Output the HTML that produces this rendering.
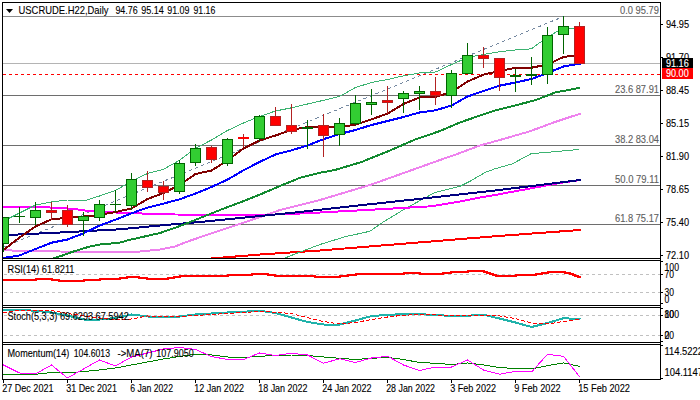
<!DOCTYPE html>
<html><head><meta charset="utf-8"><title>USCRUDE.H22 Daily</title>
<style>html,body{margin:0;padding:0;background:#fff;overflow:hidden}svg{display:block}text{font-family:"Liberation Sans",sans-serif}</style></head>
<body>
<svg width="700" height="400" viewBox="0 0 700 400" shape-rendering="crispEdges" font-family="Liberation Sans, sans-serif">
<rect x="0" y="0" width="700" height="400" fill="#fff"/>
<defs><clipPath id="cm"><rect x="3" y="3" width="657" height="255"/></clipPath><clipPath id="cr"><rect x="3" y="261" width="657" height="44"/></clipPath><clipPath id="cs"><rect x="3" y="308" width="657" height="34"/></clipPath><clipPath id="cq"><rect x="3" y="345" width="657" height="34"/></clipPath></defs>
<g clip-path="url(#cm)">
<line x1="3" y1="16.5" x2="660" y2="16.5" stroke="#8c8c8c" stroke-width="1"/>
<line x1="3" y1="63.5" x2="660" y2="63.5" stroke="#b4b4b4" stroke-width="1"/>
<line x1="3" y1="95.5" x2="660" y2="95.5" stroke="#6e6e6e" stroke-width="1"/>
<line x1="3" y1="145.5" x2="660" y2="145.5" stroke="#6e6e6e" stroke-width="1"/>
<line x1="3" y1="185.5" x2="660" y2="185.5" stroke="#6e6e6e" stroke-width="1"/>
<line x1="3" y1="224.5" x2="660" y2="224.5" stroke="#6e6e6e" stroke-width="1"/>
<line x1="3" y1="74.5" x2="660" y2="74.5" stroke="#ff0000" stroke-width="1" stroke-dasharray="3 3"/>
<line x1="3" y1="247.4" x2="563.5" y2="16.5" stroke="#7488a0" stroke-width="1" stroke-dasharray="3.25 3.25"/>
<polyline points="3,250 20,251 60,251.5 120,252.5 140,251.5 160,249.5 175,246.5 185,242.5 210,233.75 235,225.5 260,217 280,210 300,205 320,200 345,192.5 370,185 405,172.5 440,160 460,153 480,145.5 505,138.5 530,131.25 555,122 580,113.75" fill="none" stroke="#ee82ee" stroke-width="2" stroke-linejoin="round" stroke-linecap="square"/>
<polyline points="211,258.5 260,254.5 320,250.5 400,244 495,236.25 580,230" fill="none" stroke="#ff0000" stroke-width="2" stroke-linejoin="round" stroke-linecap="square"/>
<polyline points="285,258 300,252 320,244.5 345,236.75 370,231.25 382.5,222.5 405,208.75 435,192.5 460,186.25 470,181.25 485,172.5 495,168.75 512.5,163.75 531,153.75 579,149.5" fill="none" stroke="#3cb371" stroke-width="1" stroke-linejoin="round" stroke-linecap="square"/>
<polyline points="3,207 20,207 50,207.5 75,209 88,211 125,213 175,214.5 260,215 290,214 320,212.5 380,209.25 432,206.25 460,201.5 480,197.5 495,195 530,188.5 555,183.75 580,180" fill="none" stroke="#ff00ff" stroke-width="2" stroke-linejoin="round" stroke-linecap="square"/>
<polyline points="8,235 60,232.5 120,229.3 160,225.5 200,222 250,217 300,212 335,208 400,201 450,195.5 495,190.5 540,185 580,180" fill="none" stroke="#000080" stroke-width="2" stroke-linejoin="round" stroke-linecap="square"/>
<polyline points="48,260 55,257.8 64,255 72,252 88,247 99,244.6 105,243.8 115,243.3 120,242.6 128,240.3 140,237.5 160,233 180,226 200,218 220,210 240,202.5 260,194.5 280,186 300,177.8 320,172.7 335,170 361,162.2 388,151.3 415,139.6 440,131 460,122.5 480,115.5 495,110.5 515,105.5 536,100 555,92.5 579,88" fill="none" stroke="#128a30" stroke-width="2" stroke-linejoin="round" stroke-linecap="square"/>
<polyline points="3.5,258 19.5,255.4 35.5,249 51.5,242.7 67.5,239.5 83.5,233.3 99.5,225.6 115.5,219.7 131.5,213.3 147.5,207.6 163.5,203.6 179.5,199.3 195.5,193.5 211.5,187 227.5,179.6 243.5,170.3 259.5,162 275.5,154.5 291.5,150.3 307.5,145.5 323.5,139.2 339.5,134 355.5,130 371.5,125 387.5,121 403.5,117 419.5,112.5 435.5,110.3 451.5,105.5 467.5,96.5 483.5,91 499.5,85.7 515.5,82.5 531.5,79 547.5,73 563.5,66.5 579.5,63.75" fill="none" stroke="#0000ff" stroke-width="2" stroke-linejoin="round" stroke-linecap="square"/>
<polyline points="3.5,221 19.5,213 35.5,205 51.5,202 67.5,200 83.5,201 99.5,196 115.5,190.5 131.5,181 147.5,173.5 163.5,169.3 179.5,160.3 195.5,148.2 211.5,140 227.5,130.5 243.5,123 259.5,116.5 275.5,111 291.5,107.8 307.5,104 323.5,100.3 339.5,96.5 355.5,87.5 371.5,82.5 387.5,79.5 403.5,75.8 419.5,73 435.5,72 451.5,64.5 467.5,57.5 483.5,54.5 499.5,51.7 515.5,50 531.5,48.8 547.5,37 563.5,28 579.5,28" fill="none" stroke="#3cb371" stroke-width="1" stroke-linejoin="round" stroke-linecap="square"/>
<polyline points="3.5,250 19.5,237.5 35.5,226.5 51.5,219.3 67.5,217.8 83.5,216.6 99.5,215 115.5,212 131.5,208.5 147.5,199 163.5,193 179.5,185 195.5,174 211.5,170.5 227.5,160.5 243.5,148.5 259.5,140.5 275.5,135.5 291.5,130 307.5,127 323.5,127 339.5,127 355.5,124.8 371.5,119.3 387.5,113.7 403.5,104 419.5,97.5 435.5,97 451.5,92 467.5,81.5 483.5,74.6 499.5,71 515.5,67.8 531.5,67.7 547.5,64.5 563.5,57 579.5,55" fill="none" stroke="#800000" stroke-width="2" stroke-linejoin="round" stroke-linecap="square"/>
<line x1="3.5" y1="217" x2="3.5" y2="252" stroke="#006400" stroke-width="1"/>
<rect x="-1.5" y="217.5" width="10" height="26" fill="#32cd32" stroke="#006400" stroke-width="1"/>
<line x1="19.5" y1="207" x2="19.5" y2="223" stroke="#006400" stroke-width="1"/>
<rect x="14" y="216" width="11" height="1" fill="#006400"/>
<line x1="35.5" y1="202" x2="35.5" y2="225" stroke="#006400" stroke-width="1"/>
<rect x="30.5" y="210.5" width="10" height="7" fill="#32cd32" stroke="#006400" stroke-width="1"/>
<line x1="51.5" y1="202" x2="51.5" y2="220" stroke="#b22222" stroke-width="1"/>
<rect x="46.5" y="210.5" width="10" height="2" fill="#ff0000" stroke="#b22222" stroke-width="1"/>
<line x1="67.5" y1="205" x2="67.5" y2="227" stroke="#b22222" stroke-width="1"/>
<rect x="62.5" y="210.5" width="10" height="14" fill="#ff0000" stroke="#b22222" stroke-width="1"/>
<line x1="83.5" y1="212" x2="83.5" y2="236" stroke="#006400" stroke-width="1"/>
<rect x="78.5" y="216.5" width="10" height="4" fill="#32cd32" stroke="#006400" stroke-width="1"/>
<line x1="99.5" y1="200" x2="99.5" y2="221" stroke="#006400" stroke-width="1"/>
<rect x="94.5" y="204.5" width="10" height="13" fill="#32cd32" stroke="#006400" stroke-width="1"/>
<line x1="115.5" y1="190" x2="115.5" y2="212" stroke="#006400" stroke-width="1"/>
<rect x="110" y="204" width="11" height="1" fill="#006400"/>
<line x1="131.5" y1="173" x2="131.5" y2="210" stroke="#006400" stroke-width="1"/>
<rect x="126.5" y="179.5" width="10" height="26" fill="#32cd32" stroke="#006400" stroke-width="1"/>
<line x1="147.5" y1="171" x2="147.5" y2="192" stroke="#b22222" stroke-width="1"/>
<rect x="142.5" y="180.5" width="10" height="7" fill="#ff0000" stroke="#b22222" stroke-width="1"/>
<line x1="163.5" y1="181" x2="163.5" y2="200" stroke="#b22222" stroke-width="1"/>
<rect x="158.5" y="186.5" width="10" height="6" fill="#ff0000" stroke="#b22222" stroke-width="1"/>
<line x1="179.5" y1="160" x2="179.5" y2="194" stroke="#006400" stroke-width="1"/>
<rect x="174.5" y="163.5" width="10" height="28" fill="#32cd32" stroke="#006400" stroke-width="1"/>
<line x1="195.5" y1="144" x2="195.5" y2="166" stroke="#006400" stroke-width="1"/>
<rect x="190.5" y="148.5" width="10" height="14" fill="#32cd32" stroke="#006400" stroke-width="1"/>
<line x1="211.5" y1="146" x2="211.5" y2="163" stroke="#b22222" stroke-width="1"/>
<rect x="206.5" y="147.5" width="10" height="12" fill="#ff0000" stroke="#b22222" stroke-width="1"/>
<line x1="227.5" y1="138" x2="227.5" y2="166" stroke="#006400" stroke-width="1"/>
<rect x="222.5" y="139.5" width="10" height="24" fill="#32cd32" stroke="#006400" stroke-width="1"/>
<line x1="243.5" y1="134" x2="243.5" y2="147" stroke="#b22222" stroke-width="1"/>
<rect x="238" y="137" width="11" height="2" fill="#ff0000"/>
<line x1="259.5" y1="115" x2="259.5" y2="141" stroke="#006400" stroke-width="1"/>
<rect x="254.5" y="116.5" width="10" height="22" fill="#32cd32" stroke="#006400" stroke-width="1"/>
<line x1="275.5" y1="107" x2="275.5" y2="126" stroke="#b22222" stroke-width="1"/>
<rect x="270.5" y="116.5" width="10" height="9" fill="#ff0000" stroke="#b22222" stroke-width="1"/>
<line x1="291.5" y1="104" x2="291.5" y2="134" stroke="#b22222" stroke-width="1"/>
<rect x="286.5" y="125.5" width="10" height="6" fill="#ff0000" stroke="#b22222" stroke-width="1"/>
<line x1="307.5" y1="120" x2="307.5" y2="149" stroke="#006400" stroke-width="1"/>
<rect x="302" y="127" width="11" height="2" fill="#006400"/>
<line x1="323.5" y1="114" x2="323.5" y2="157" stroke="#b22222" stroke-width="1"/>
<rect x="318.5" y="125.5" width="10" height="10" fill="#ff0000" stroke="#b22222" stroke-width="1"/>
<line x1="339.5" y1="118" x2="339.5" y2="146" stroke="#006400" stroke-width="1"/>
<rect x="334.5" y="123.5" width="10" height="11" fill="#32cd32" stroke="#006400" stroke-width="1"/>
<line x1="355.5" y1="95" x2="355.5" y2="125" stroke="#006400" stroke-width="1"/>
<rect x="350.5" y="103.5" width="10" height="20" fill="#32cd32" stroke="#006400" stroke-width="1"/>
<line x1="371.5" y1="89" x2="371.5" y2="115" stroke="#006400" stroke-width="1"/>
<rect x="366.5" y="102.5" width="10" height="2" fill="#32cd32" stroke="#006400" stroke-width="1"/>
<line x1="387.5" y1="86" x2="387.5" y2="114" stroke="#b22222" stroke-width="1"/>
<rect x="382.5" y="100.5" width="10" height="2" fill="#ff0000" stroke="#b22222" stroke-width="1"/>
<line x1="403.5" y1="91" x2="403.5" y2="113" stroke="#006400" stroke-width="1"/>
<rect x="398.5" y="93.5" width="10" height="5" fill="#32cd32" stroke="#006400" stroke-width="1"/>
<line x1="419.5" y1="86" x2="419.5" y2="110" stroke="#006400" stroke-width="1"/>
<rect x="414.5" y="91.5" width="10" height="2" fill="#32cd32" stroke="#006400" stroke-width="1"/>
<line x1="435.5" y1="77" x2="435.5" y2="105" stroke="#b22222" stroke-width="1"/>
<rect x="430.5" y="91.5" width="10" height="4" fill="#ff0000" stroke="#b22222" stroke-width="1"/>
<line x1="451.5" y1="70" x2="451.5" y2="108" stroke="#006400" stroke-width="1"/>
<rect x="446.5" y="73.5" width="10" height="22" fill="#32cd32" stroke="#006400" stroke-width="1"/>
<line x1="467.5" y1="43" x2="467.5" y2="74" stroke="#006400" stroke-width="1"/>
<rect x="462.5" y="55.5" width="10" height="18" fill="#32cd32" stroke="#006400" stroke-width="1"/>
<line x1="483.5" y1="47" x2="483.5" y2="68" stroke="#b22222" stroke-width="1"/>
<rect x="478.5" y="55.5" width="10" height="3" fill="#ff0000" stroke="#b22222" stroke-width="1"/>
<line x1="499.5" y1="58" x2="499.5" y2="91" stroke="#b22222" stroke-width="1"/>
<rect x="494.5" y="58.5" width="10" height="19" fill="#ff0000" stroke="#b22222" stroke-width="1"/>
<line x1="515.5" y1="69" x2="515.5" y2="92" stroke="#006400" stroke-width="1"/>
<rect x="510" y="75" width="11" height="2" fill="#006400"/>
<line x1="531.5" y1="57" x2="531.5" y2="85" stroke="#006400" stroke-width="1"/>
<rect x="526" y="74" width="11" height="2" fill="#006400"/>
<line x1="547.5" y1="27" x2="547.5" y2="84" stroke="#006400" stroke-width="1"/>
<rect x="542.5" y="35.5" width="10" height="39" fill="#32cd32" stroke="#006400" stroke-width="1"/>
<line x1="563.5" y1="16" x2="563.5" y2="54" stroke="#006400" stroke-width="1"/>
<rect x="558.5" y="26.5" width="10" height="8" fill="#32cd32" stroke="#006400" stroke-width="1"/>
<line x1="579.5" y1="22" x2="579.5" y2="64" stroke="#b22222" stroke-width="1"/>
<rect x="574.5" y="26.5" width="10" height="37" fill="#ff0000" stroke="#b22222" stroke-width="1"/>
</g>
<text x="659" y="14" fill="#606060" stroke="#606060" stroke-width="0.12" font-size="10.4" text-anchor="end" textLength="39" lengthAdjust="spacingAndGlyphs" xml:space="preserve">0.0 95.79</text>
<text x="659" y="93" fill="#606060" stroke="#606060" stroke-width="0.12" font-size="10.4" text-anchor="end" textLength="44" lengthAdjust="spacingAndGlyphs" xml:space="preserve">23.6 87.91</text>
<text x="659" y="143" fill="#606060" stroke="#606060" stroke-width="0.12" font-size="10.4" text-anchor="end" textLength="44" lengthAdjust="spacingAndGlyphs" xml:space="preserve">38.2 83.04</text>
<text x="659" y="183" fill="#606060" stroke="#606060" stroke-width="0.12" font-size="10.4" text-anchor="end" textLength="44" lengthAdjust="spacingAndGlyphs" xml:space="preserve">50.0 79.11</text>
<text x="659" y="222" fill="#606060" stroke="#606060" stroke-width="0.12" font-size="10.4" text-anchor="end" textLength="44" lengthAdjust="spacingAndGlyphs" xml:space="preserve">61.8 75.17</text>
<g clip-path="url(#cr)">
<line x1="4" y1="274.5" x2="660" y2="274.5" stroke="#c0c0c0" stroke-width="1" stroke-dasharray="3 3"/>
<line x1="4" y1="292.5" x2="660" y2="292.5" stroke="#c0c0c0" stroke-width="1" stroke-dasharray="3 3"/>
<path d="M3,280H36V279H52V280H59V281H84V280H100V279H120V278H127V277H139V278H147V279H168V278H174V277H180V276H228V275H252V274H268V275H275V276H315V277H340V276H348V275H356V274H404V273H420V274H443V273H451V272H468V271H484V272H487V273H490V274H493V275H496V276H516V275H536V274H542V273H548V272H565V273H570V274H573V275H575V276H578V277H580V278H580" fill="none" stroke="#ff0000" stroke-width="2" stroke-linejoin="miter"/>
</g>
<g clip-path="url(#cs)">
<line x1="4" y1="315.5" x2="660" y2="315.5" stroke="#c0c0c0" stroke-width="1" stroke-dasharray="3 3"/>
<line x1="4" y1="335.5" x2="660" y2="335.5" stroke="#c0c0c0" stroke-width="1" stroke-dasharray="3 3"/>
<polyline points="3.5,309.8 19.5,309.8 35.5,310.8 51.5,312.5 67.5,315.5 83.5,319.5 99.5,319.5 115.5,318 131.5,314.5 147.5,316.5 163.5,316.5 179.5,316.5 195.5,314.5 211.5,313.5 227.5,312.5 243.5,311.75 259.5,310.75 275.5,313 291.5,317.5 307.5,322 323.5,324.5 339.5,324.5 355.5,320.5 371.5,316 387.5,315 403.5,314 419.5,314 435.5,315.25 451.5,315.75 467.5,315.75 483.5,314.75 499.5,318.5 515.5,322.5 531.5,327 547.5,323 563.5,318.25 579.5,319" fill="none" stroke="#20b2aa" stroke-width="2" stroke-linejoin="round" stroke-linecap="square"/>
<polyline points="3.5,312.5 19.5,310.3 35.5,310.3 51.5,310.5 67.5,313.5 83.5,315.8 99.5,318 115.5,319.5 131.5,319 147.5,316 163.5,316.5 179.5,316.5 195.5,315.5 211.5,314.5 227.5,313.5 243.5,312.5 259.5,311.5 275.5,312.25 291.5,313.5 307.5,317.75 323.5,321.5 339.5,324 355.5,322.5 371.5,319.5 387.5,317 403.5,315.25 419.5,314.5 435.5,315 451.5,315.5 467.5,315.75 483.5,315.5 499.5,316 515.5,318.5 531.5,323 547.5,324 563.5,321.5 579.5,319.5" fill="none" stroke="#ff0000" stroke-width="1" stroke-dasharray="3 3" stroke-linejoin="round" stroke-linecap="square"/>
</g>
<g clip-path="url(#cq)">
<polyline points="3.5,374.25 19.5,374.25 35.5,374.25 51.5,372.5 67.5,373 83.5,371.5 99.5,370 115.5,368 131.5,365 147.5,362 163.5,359 179.5,356.5 195.5,354.25 211.5,355 227.5,357 243.5,357.5 259.5,356.25 275.5,355.5 291.5,355 307.5,355.5 323.5,357 339.5,358.25 355.5,359.5 371.5,358.25 387.5,357.5 403.5,359.5 419.5,362.5 435.5,363.25 451.5,364.5 467.5,363 483.5,365 499.5,367.5 515.5,368.6 531.5,369 547.5,365.7 563.5,362.9 579.5,366.3" fill="none" stroke="#008000" stroke-width="1" stroke-linejoin="round" stroke-linecap="square"/>
<polyline points="3.5,365 19.5,373 35.5,374 51.5,365 67.5,378 83.5,369 99.5,360 115.5,366 131.5,357 147.5,353 163.5,349 179.5,347.5 195.5,349.5 211.5,356.5 227.5,359.5 243.5,359.5 259.5,353 275.5,355.5 291.5,353.25 307.5,355 323.5,363.25 339.5,358.75 355.5,362.5 371.5,358 387.5,356.25 403.5,365 419.5,370.5 435.5,367 451.5,367 467.5,360 483.5,370 499.5,374.25 515.5,371.4 531.5,372 547.5,354.3 563.5,356.3 579.5,376.6" fill="none" stroke="#ff00ff" stroke-width="1" stroke-linejoin="round" stroke-linecap="square"/>
</g>
<line x1="2" y1="2.5" x2="661" y2="2.5" stroke="#000" stroke-width="1"/>
<line x1="2" y1="258.5" x2="661" y2="258.5" stroke="#000" stroke-width="1"/>
<line x1="2" y1="260.5" x2="661" y2="260.5" stroke="#000" stroke-width="1"/>
<line x1="2" y1="305.5" x2="661" y2="305.5" stroke="#000" stroke-width="1"/>
<line x1="2" y1="307.5" x2="661" y2="307.5" stroke="#000" stroke-width="1"/>
<line x1="2" y1="342.5" x2="661" y2="342.5" stroke="#000" stroke-width="1"/>
<line x1="2" y1="344.5" x2="661" y2="344.5" stroke="#000" stroke-width="1"/>
<line x1="2" y1="379.5" x2="661" y2="379.5" stroke="#000" stroke-width="1"/>
<line x1="2.5" y1="2" x2="2.5" y2="380" stroke="#000" stroke-width="1"/>
<line x1="660.5" y1="2" x2="660.5" y2="380" stroke="#000" stroke-width="1"/>
<path d="M6 9h7l-3.5 4z" fill="#000" shape-rendering="auto"/>
<text x="18.5" y="14" fill="#000" stroke="#000" stroke-width="0.12" font-size="10.4" text-anchor="start" textLength="90" lengthAdjust="spacingAndGlyphs" xml:space="preserve">USCRUDE.H22,Daily</text>
<text x="115.4" y="14" fill="#000" stroke="#000" stroke-width="0.12" font-size="10.4" text-anchor="start" textLength="22.3" lengthAdjust="spacingAndGlyphs" xml:space="preserve">94.76</text>
<text x="141.2" y="14" fill="#000" stroke="#000" stroke-width="0.12" font-size="10.4" text-anchor="start" textLength="22.6" lengthAdjust="spacingAndGlyphs" xml:space="preserve">95.14</text>
<text x="167.2" y="14" fill="#000" stroke="#000" stroke-width="0.12" font-size="10.4" text-anchor="start" textLength="22.3" lengthAdjust="spacingAndGlyphs" xml:space="preserve">91.09</text>
<text x="193.5" y="14" fill="#000" stroke="#000" stroke-width="0.12" font-size="10.4" text-anchor="start" textLength="21.8" lengthAdjust="spacingAndGlyphs" xml:space="preserve">91.16</text>
<text x="7.5" y="273" fill="#000" stroke="#000" stroke-width="0.12" font-size="10.4" text-anchor="start" textLength="67" lengthAdjust="spacingAndGlyphs" xml:space="preserve">RSI(14) 61.8211</text>
<text x="7.5" y="320" fill="#000" stroke="#000" stroke-width="0.12" font-size="10.4" text-anchor="start" textLength="121.25" lengthAdjust="spacingAndGlyphs" xml:space="preserve">Stoch(5,3,3) 69.6293 67.5942</text>
<text x="7.5" y="357" fill="#000" stroke="#000" stroke-width="0.12" font-size="10.4" text-anchor="start" textLength="61.75" lengthAdjust="spacingAndGlyphs" xml:space="preserve">Momentum(14)</text>
<text x="73.75" y="357" fill="#000" stroke="#000" stroke-width="0.12" font-size="10.4" text-anchor="start" textLength="36.25" lengthAdjust="spacingAndGlyphs" xml:space="preserve">104.6013</text>
<text x="117.5" y="357" fill="#000" stroke="#000" stroke-width="0.12" font-size="10.4" text-anchor="start" textLength="35" lengthAdjust="spacingAndGlyphs" xml:space="preserve">-&gt;MA(7)</text>
<text x="156.25" y="357" fill="#000" stroke="#000" stroke-width="0.12" font-size="10.4" text-anchor="start" textLength="37.5" lengthAdjust="spacingAndGlyphs" xml:space="preserve">107.9050</text>
<line x1="661" y1="24.5" x2="663" y2="24.5" stroke="#000" stroke-width="1"/>
<text x="666" y="28" fill="#000" stroke="#000" stroke-width="0.12" font-size="10.4" text-anchor="start" textLength="23" lengthAdjust="spacingAndGlyphs" xml:space="preserve">94.95</text>
<line x1="661" y1="57.5" x2="663" y2="57.5" stroke="#000" stroke-width="1"/>
<text x="666" y="61" fill="#000" stroke="#000" stroke-width="0.12" font-size="10.4" text-anchor="start" textLength="23" lengthAdjust="spacingAndGlyphs" xml:space="preserve">91.70</text>
<line x1="661" y1="90.5" x2="663" y2="90.5" stroke="#000" stroke-width="1"/>
<text x="666" y="94" fill="#000" stroke="#000" stroke-width="0.12" font-size="10.4" text-anchor="start" textLength="23" lengthAdjust="spacingAndGlyphs" xml:space="preserve">88.45</text>
<line x1="661" y1="123.5" x2="663" y2="123.5" stroke="#000" stroke-width="1"/>
<text x="666" y="127" fill="#000" stroke="#000" stroke-width="0.12" font-size="10.4" text-anchor="start" textLength="23" lengthAdjust="spacingAndGlyphs" xml:space="preserve">85.15</text>
<line x1="661" y1="156.5" x2="663" y2="156.5" stroke="#000" stroke-width="1"/>
<text x="666" y="160" fill="#000" stroke="#000" stroke-width="0.12" font-size="10.4" text-anchor="start" textLength="23" lengthAdjust="spacingAndGlyphs" xml:space="preserve">81.90</text>
<line x1="661" y1="189.5" x2="663" y2="189.5" stroke="#000" stroke-width="1"/>
<text x="666" y="193" fill="#000" stroke="#000" stroke-width="0.12" font-size="10.4" text-anchor="start" textLength="23" lengthAdjust="spacingAndGlyphs" xml:space="preserve">78.65</text>
<line x1="661" y1="222.5" x2="663" y2="222.5" stroke="#000" stroke-width="1"/>
<text x="666" y="226" fill="#000" stroke="#000" stroke-width="0.12" font-size="10.4" text-anchor="start" textLength="23" lengthAdjust="spacingAndGlyphs" xml:space="preserve">75.40</text>
<line x1="661" y1="255.5" x2="663" y2="255.5" stroke="#000" stroke-width="1"/>
<text x="666" y="259" fill="#000" stroke="#000" stroke-width="0.12" font-size="10.4" text-anchor="start" textLength="23" lengthAdjust="spacingAndGlyphs" xml:space="preserve">72.10</text>
<rect x="662" y="58" width="31" height="10" fill="#000"/>
<rect x="662" y="68" width="31" height="11" fill="#ff0000"/>
<text x="666" y="67" fill="#fff" stroke="#fff" stroke-width="0.12" font-size="10.4" text-anchor="start" textLength="22.7" lengthAdjust="spacingAndGlyphs" xml:space="preserve">91.16</text>
<text x="666" y="77" fill="#fff" stroke="#fff" stroke-width="0.12" font-size="10.4" text-anchor="start" textLength="22.7" lengthAdjust="spacingAndGlyphs" xml:space="preserve">90.00</text>
<text x="664.5" y="271" fill="#000" stroke="#000" stroke-width="0.12" font-size="10.4" text-anchor="start" textLength="14.5" lengthAdjust="spacingAndGlyphs" xml:space="preserve">100</text>
<text x="664.5" y="278" fill="#000" stroke="#000" stroke-width="0.12" font-size="10.4" text-anchor="start" textLength="9.5" lengthAdjust="spacingAndGlyphs" xml:space="preserve">70</text>
<text x="664.5" y="296" fill="#000" stroke="#000" stroke-width="0.12" font-size="10.4" text-anchor="start" textLength="9.5" lengthAdjust="spacingAndGlyphs" xml:space="preserve">30</text>
<text x="664.5" y="302.6" fill="#000" stroke="#000" stroke-width="0.12" font-size="10.4" text-anchor="start" textLength="4.8" lengthAdjust="spacingAndGlyphs" xml:space="preserve">0</text>
<line x1="661" y1="261.5" x2="663" y2="261.5" stroke="#000" stroke-width="1"/>
<line x1="661" y1="274.5" x2="663" y2="274.5" stroke="#000" stroke-width="1"/>
<line x1="661" y1="292.5" x2="663" y2="292.5" stroke="#000" stroke-width="1"/>
<line x1="661" y1="303.5" x2="663" y2="303.5" stroke="#000" stroke-width="1"/>
<line x1="661" y1="308.5" x2="663" y2="308.5" stroke="#000" stroke-width="1"/>
<line x1="661" y1="315.5" x2="663" y2="315.5" stroke="#000" stroke-width="1"/>
<line x1="661" y1="335.5" x2="663" y2="335.5" stroke="#000" stroke-width="1"/>
<line x1="661" y1="341.5" x2="663" y2="341.5" stroke="#000" stroke-width="1"/>
<line x1="661" y1="345.5" x2="663" y2="345.5" stroke="#000" stroke-width="1"/>
<line x1="661" y1="378.5" x2="663" y2="378.5" stroke="#000" stroke-width="1"/>
<text x="664.5" y="318" fill="#000" stroke="#000" stroke-width="0.12" font-size="10.4" text-anchor="start" textLength="14.5" lengthAdjust="spacingAndGlyphs" xml:space="preserve">100</text>
<text x="664.5" y="318" fill="#000" stroke="#000" stroke-width="0.12" font-size="10.4" text-anchor="start" textLength="9.5" lengthAdjust="spacingAndGlyphs" xml:space="preserve">80</text>
<text x="664.5" y="339" fill="#000" stroke="#000" stroke-width="0.12" font-size="10.4" text-anchor="start" textLength="9.5" lengthAdjust="spacingAndGlyphs" xml:space="preserve">20</text>
<text x="664.5" y="339" fill="#000" stroke="#000" stroke-width="0.12" font-size="10.4" text-anchor="start" textLength="4.8" lengthAdjust="spacingAndGlyphs" xml:space="preserve">0</text>
<text x="664.5" y="355" fill="#000" stroke="#000" stroke-width="0.12" font-size="10.4" text-anchor="start" textLength="38.5" lengthAdjust="spacingAndGlyphs" xml:space="preserve">114.5222</text>
<text x="664.5" y="376" fill="#000" stroke="#000" stroke-width="0.12" font-size="10.4" text-anchor="start" textLength="38.5" lengthAdjust="spacingAndGlyphs" xml:space="preserve">104.1147</text>
<line x1="3.5" y1="380" x2="3.5" y2="383" stroke="#000" stroke-width="1"/>
<text x="2.2" y="392" fill="#000" stroke="#000" stroke-width="0.12" font-size="10.4" text-anchor="start" textLength="51.3" lengthAdjust="spacingAndGlyphs" xml:space="preserve">27 Dec 2021</text>
<line x1="67.5" y1="380" x2="67.5" y2="383" stroke="#000" stroke-width="1"/>
<text x="66.2" y="392" fill="#000" stroke="#000" stroke-width="0.12" font-size="10.4" text-anchor="start" textLength="50.8" lengthAdjust="spacingAndGlyphs" xml:space="preserve">31 Dec 2021</text>
<line x1="131.5" y1="380" x2="131.5" y2="383" stroke="#000" stroke-width="1"/>
<text x="130.2" y="392" fill="#000" stroke="#000" stroke-width="0.12" font-size="10.4" text-anchor="start" textLength="42.8" lengthAdjust="spacingAndGlyphs" xml:space="preserve">6 Jan 2022</text>
<line x1="195.5" y1="380" x2="195.5" y2="383" stroke="#000" stroke-width="1"/>
<text x="194.2" y="392" fill="#000" stroke="#000" stroke-width="0.12" font-size="10.4" text-anchor="start" textLength="49.8" lengthAdjust="spacingAndGlyphs" xml:space="preserve">12 Jan 2022</text>
<line x1="259.5" y1="380" x2="259.5" y2="383" stroke="#000" stroke-width="1"/>
<text x="258.2" y="392" fill="#000" stroke="#000" stroke-width="0.12" font-size="10.4" text-anchor="start" textLength="49.3" lengthAdjust="spacingAndGlyphs" xml:space="preserve">18 Jan 2022</text>
<line x1="323.5" y1="380" x2="323.5" y2="383" stroke="#000" stroke-width="1"/>
<text x="322.2" y="392" fill="#000" stroke="#000" stroke-width="0.12" font-size="10.4" text-anchor="start" textLength="49.3" lengthAdjust="spacingAndGlyphs" xml:space="preserve">24 Jan 2022</text>
<line x1="387.5" y1="380" x2="387.5" y2="383" stroke="#000" stroke-width="1"/>
<text x="386.2" y="392" fill="#000" stroke="#000" stroke-width="0.12" font-size="10.4" text-anchor="start" textLength="48.8" lengthAdjust="spacingAndGlyphs" xml:space="preserve">28 Jan 2022</text>
<line x1="451.5" y1="380" x2="451.5" y2="383" stroke="#000" stroke-width="1"/>
<text x="450.2" y="392" fill="#000" stroke="#000" stroke-width="0.12" font-size="10.4" text-anchor="start" textLength="45.8" lengthAdjust="spacingAndGlyphs" xml:space="preserve">3 Feb 2022</text>
<line x1="515.5" y1="380" x2="515.5" y2="383" stroke="#000" stroke-width="1"/>
<text x="514.2" y="392" fill="#000" stroke="#000" stroke-width="0.12" font-size="10.4" text-anchor="start" textLength="46.4" lengthAdjust="spacingAndGlyphs" xml:space="preserve">9 Feb 2022</text>
<line x1="579.5" y1="380" x2="579.5" y2="383" stroke="#000" stroke-width="1"/>
<text x="578.2" y="392" fill="#000" stroke="#000" stroke-width="0.12" font-size="10.4" text-anchor="start" textLength="51.8" lengthAdjust="spacingAndGlyphs" xml:space="preserve">15 Feb 2022</text>
</svg>
</body></html>
